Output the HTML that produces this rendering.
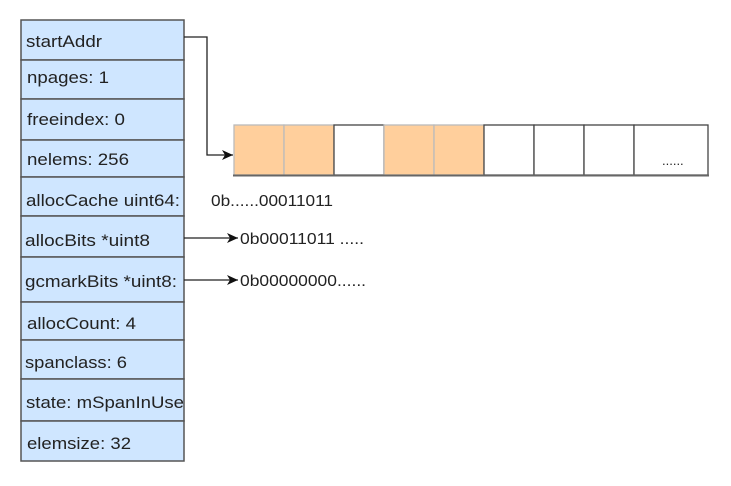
<!DOCTYPE html>
<html><head><meta charset="utf-8"><style>
body{margin:0;background:#fff;width:731px;height:481px;overflow:hidden;font-family:"Liberation Sans",Arial,sans-serif;}
svg text{font-family:"Liberation Sans",Arial,sans-serif;fill:#222;}
</style></head><body>
<svg width="731" height="481" xmlns="http://www.w3.org/2000/svg">
<defs><marker id="a" markerWidth="12" markerHeight="12" refX="11" refY="6" orient="auto" markerUnits="userSpaceOnUse"><path d="M0,1 L11,6 L0,11 L3,6 Z" fill="#111"/></marker></defs>
<g stroke="#555" stroke-width="1.5" fill="#cfe6ff">
<rect x="21" y="20" width="163" height="40"/>
<rect x="21" y="60" width="163" height="39"/>
<rect x="21" y="99" width="163" height="41"/>
<rect x="21" y="140" width="163" height="37"/>
<rect x="21" y="177" width="163" height="39"/>
<rect x="21" y="216" width="163" height="41"/>
<rect x="21" y="257" width="163" height="45"/>
<rect x="21" y="302" width="163" height="38"/>
<rect x="21" y="340" width="163" height="39"/>
<rect x="21" y="379" width="163" height="42"/>
<rect x="21" y="421" width="163" height="40"/>
</g>
<g font-size="17" lengthAdjust="spacingAndGlyphs">
<text x="26" y="47" textLength="76" lengthAdjust="spacingAndGlyphs">startAddr</text>
<text x="27" y="83" textLength="82" lengthAdjust="spacingAndGlyphs">npages: 1</text>
<text x="27" y="125" textLength="98" lengthAdjust="spacingAndGlyphs">freeindex: 0</text>
<text x="27" y="165" textLength="102" lengthAdjust="spacingAndGlyphs">nelems: 256</text>
<text x="26" y="206" textLength="154" lengthAdjust="spacingAndGlyphs">allocCache uint64:</text>
<text x="25" y="246" textLength="125" lengthAdjust="spacingAndGlyphs">allocBits *uint8</text>
<text x="25" y="287" textLength="152" lengthAdjust="spacingAndGlyphs">gcmarkBits *uint8:</text>
<text x="27" y="329" textLength="109" lengthAdjust="spacingAndGlyphs">allocCount: 4</text>
<text x="25" y="368" textLength="102" lengthAdjust="spacingAndGlyphs">spanclass: 6</text>
<text x="26" y="408" textLength="158" lengthAdjust="spacingAndGlyphs">state: mSpanInUse</text>
<text x="27" y="449" textLength="104" lengthAdjust="spacingAndGlyphs">elemsize: 32</text>
</g>
<g stroke="#444" stroke-width="1.3">
<rect x="234" y="125" width="50" height="50" fill="#ffcf9c" stroke="#bbb"/>
<rect x="284" y="125" width="50" height="50" fill="#ffcf9c" stroke="#bbb"/>
<rect x="334" y="125" width="50" height="50" fill="#fff"/>
<rect x="384" y="125" width="50" height="50" fill="#ffcf9c" stroke="#bbb"/>
<rect x="434" y="125" width="50" height="50" fill="#ffcf9c" stroke="#bbb"/>
<rect x="484" y="125" width="50" height="50" fill="#fff"/>
<rect x="534" y="125" width="50" height="50" fill="#fff"/>
<rect x="584" y="125" width="50" height="50" fill="#fff"/>
<rect x="634" y="125" width="74" height="50" fill="#fff"/>
<line x1="233" y1="175.5" x2="709" y2="175.5" stroke="#666" stroke-width="2"/>
</g>
<text x="662" y="165" font-size="13">......</text>
<g stroke="#222" stroke-width="1.3" fill="none">
<polyline points="184,37 207,37 207,155 233,155" marker-end="url(#a)"/>
<line x1="184" y1="238" x2="238" y2="238" marker-end="url(#a)"/>
<line x1="184" y1="280" x2="238" y2="280" marker-end="url(#a)"/>
</g>
<g font-size="16">
<text x="211" y="206" textLength="122" lengthAdjust="spacingAndGlyphs">0b......00011011</text>
<text x="240" y="244" textLength="124" lengthAdjust="spacingAndGlyphs">0b00011011 .....</text>
<text x="240" y="286" textLength="126" lengthAdjust="spacingAndGlyphs">0b00000000......</text>
</g>
</svg>
</body></html>
